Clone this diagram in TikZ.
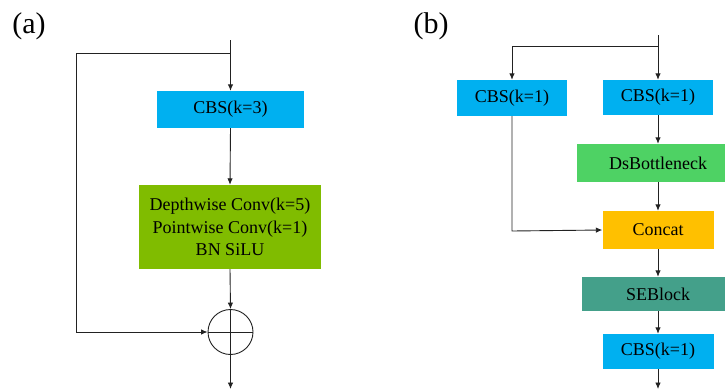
\documentclass[tikz,border=0pt]{standalone}
\usepackage{fontspec}
\setmainfont{Liberation Serif}
\usetikzlibrary{arrows.meta}
\definecolor{cbsblue}{HTML}{00B0F0}
\definecolor{dwgreen}{HTML}{80BC00}
\definecolor{dsgreen}{HTML}{4ED264}
\definecolor{concatc}{HTML}{FFC000}
\definecolor{seteal}{HTML}{44A08A}
\definecolor{linec}{HTML}{222222}
\tikzset{
  blk/.style={draw=none, inner sep=0pt, align=center, font=\rmfamily\fontsize{18}{22.3}\selectfont},
  conn/.style={draw=linec, line width=0.9pt, -{Latex[length=6.5pt,width=5.5pt]}},
  plain/.style={draw=linec, line width=0.9pt},
  lbl/.style={font=\rmfamily\fontsize{30}{34}\selectfont, inner sep=0pt}
}
\begin{document}
\begin{tikzpicture}[x=1pt,y=-1pt]
\useasboundingbox (0,0) rectangle (725,389);
\clip (0,0) rectangle (725,389);
% labels
\node[lbl] (la) at (29,26) {(a)};
\node[lbl] (lb) at (431,26) {(b)};
% (a)
\node[blk, fill=cbsblue, minimum width=147pt, minimum height=37pt] (cbsA) at (230.5,109.5) {CBS(k=3)};
\node[blk, fill=dwgreen, minimum width=182pt, minimum height=84pt] (dw) at (230,227) {Depthwise Conv(k=5)\\Pointwise Conv(k=1)\\BN SiLU};
\node[circle, draw=linec, line width=0.9pt, minimum size=45pt, inner sep=0pt] (add) at (230.5,332) {};
\draw[plain] (add.west) -- (add.east);
\draw[plain] (add.north) -- (add.south);
\coordinate (inA) at (230.5,40);
\coordinate (brA) at (230.5,53);
\coordinate (lA) at (76,53);
\coordinate (lA2) at (76,332);
\coordinate (outA) at (230.5,389);
\draw[plain] (inA) -- (brA);
\draw[conn] (brA) -- (cbsA.north);
\draw[conn] (cbsA.south) -- (dw.north);
\draw[conn] (dw.south) -- (add.north);
\draw[conn] (brA) -- (lA) -- (lA2) -- (add.west);
\draw[conn] (add.south) -- (outA);
% (b)
\node[blk, fill=cbsblue, minimum width=110pt, minimum height=36pt] (cbsL) at (512,98) {CBS(k=1)};
\node[blk, fill=cbsblue, minimum width=110pt, minimum height=35pt] (cbsR) at (658,97.5) {CBS(k=1)};
\node[blk, fill=dsgreen, minimum width=162pt, minimum height=38pt] (dsb) at (658,163) {DsBottleneck};
\node[blk, fill=concatc, minimum width=111pt, minimum height=38pt] (cat) at (658,230) {Concat};
\node[blk, fill=seteal, minimum width=152pt, minimum height=34pt] (se) at (658,294) {SEBlock};
\node[blk, fill=cbsblue, minimum width=111pt, minimum height=35pt] (cbsO) at (658,351.5) {CBS(k=1)};
\coordinate (inB) at (658,35);
\coordinate (brB) at (658,46);
\coordinate (lB) at (512,46);
\coordinate (lB2) at (512,231);
\coordinate (outB) at (658,389);
\draw[plain] (inB) -- (brB);
\draw[conn] (brB) -- (cbsR.north);
\draw[conn] (brB) -- (lB) -- (cbsL.north);
\draw[conn] (cbsR.south) -- (dsb.north);
\draw[conn] (dsb.south) -- (cat.north);
\draw[conn] (cbsL.south) -- (lB2) -- (cat.west);
\draw[conn] (cat.south) -- (se.north);
\draw[conn] (se.south) -- (cbsO.north);
\draw[conn] (cbsO.south) -- (outB);
\end{tikzpicture}
\end{document}
